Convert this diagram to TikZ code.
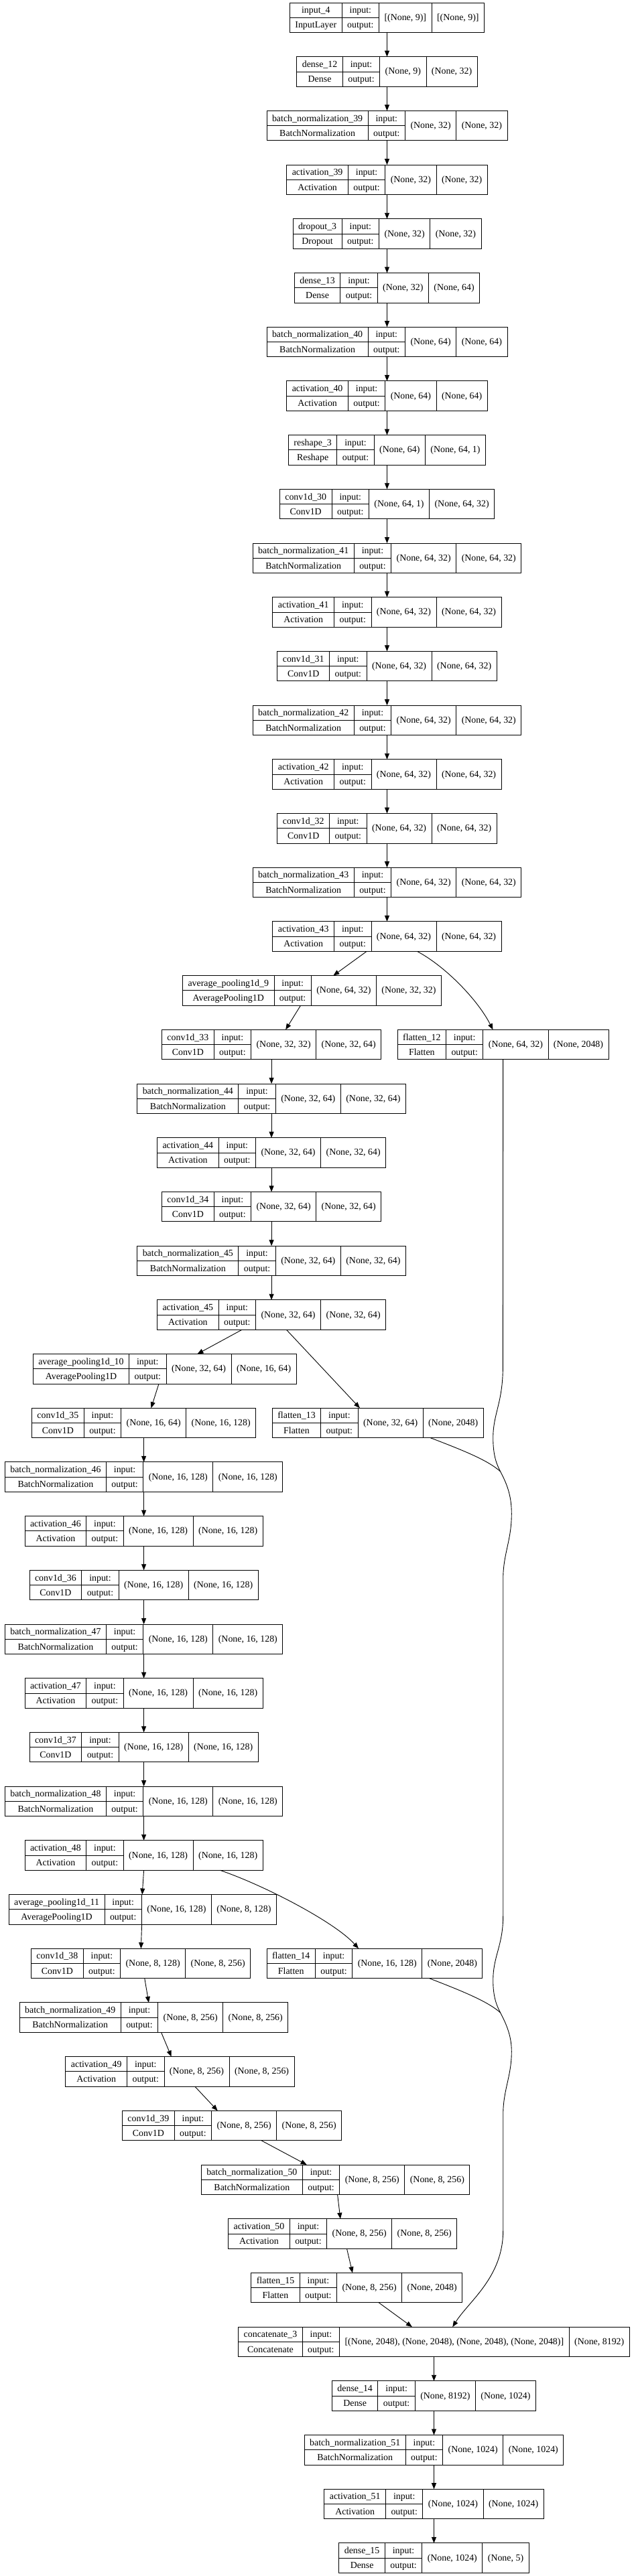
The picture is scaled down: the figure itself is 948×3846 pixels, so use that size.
\documentclass[tikz,border=0pt]{standalone}
\usepackage{fontspec}
\setmainfont{Liberation Serif}
\usetikzlibrary{arrows.meta,calc}
\newlength\kwa \newlength\kwb \newlength\kwc \newlength\kwd \newlength\kwt \newlength\kwtmp
\newif\ifkmeasure
\newcommand\kfont{\fontsize{13.9pt}{16pt}\selectfont}
\tikzset{
  kbox/.style={draw=black, line width=0.9pt, rectangle, inner sep=0pt, outer sep=0pt, minimum height=44.5pt},
  kcell/.style={draw=black, line width=0.9pt},
  ktext/.style={font=\kfont, inner sep=0pt, outer sep=0pt, anchor=base},
  kedge/.style={draw=black, line width=0.9pt, -{Triangle[length=9pt,width=7pt]}},
  kline/.style={draw=black, line width=0.9pt},
}
\newcommand\klayer[7]{%
  \ifkmeasure
    \settowidth\kwa{\kfont #4}\settowidth\kwtmp{\kfont #5}%
    \ifdim\kwtmp>\kwa \kwa=\kwtmp\fi
    \addtolength\kwa{16pt}%
    \settowidth\kwc{\kfont #6}\addtolength\kwc{16pt}%
    \settowidth\kwd{\kfont #7}\addtolength\kwd{16pt}%
    \expandafter\xdef\csname kwA@#1\endcsname{\the\kwa}%
    \expandafter\xdef\csname kwC@#1\endcsname{\the\kwc}%
    \expandafter\xdef\csname kwD@#1\endcsname{\the\kwd}%
  \else
    \kwa=\csname kwA@#1\endcsname\relax
    \kwb=\kwBfix\relax
    \kwc=\csname kwC@#1\endcsname\relax
    \kwd=\csname kwD@#1\endcsname\relax
    \kwt=\dimexpr\kwa+\kwb+\kwc+\kwd\relax
    \pgfmathsetmacro\kyy{26.25+(#3-1)*80.7}%
    \node[kbox, minimum width=\kwt] (#1) at (#2,\kyy) {};
    \draw[kcell] ([xshift=\kwa]#1.north west) -- ([xshift=\kwa]#1.south west)
       ([xshift=\kwa+\kwb]#1.north west) -- ([xshift=\kwa+\kwb]#1.south west)
       ([xshift=\kwa+\kwb+\kwc]#1.north west) -- ([xshift=\kwa+\kwb+\kwc]#1.south west)
       (#1.west) -- ([xshift=\kwa+\kwb]#1.west);
    \node[ktext] (#1-n) at ([xshift=0.5*\kwa, yshift=-15.7pt]#1.north west) {#4};
    \node[ktext] (#1-c) at ([xshift=0.5*\kwa, yshift=-38pt]#1.north west) {#5};
    \node[ktext] (#1-i) at ([xshift=\kwa+0.5*\kwb, yshift=-15.7pt]#1.north west) {input:};
    \node[ktext] (#1-o) at ([xshift=\kwa+0.5*\kwb, yshift=-38pt]#1.north west) {output:};
    \node[ktext] (#1-in) at ([xshift=\kwa+\kwb+0.5*\kwc, yshift=-26.2pt]#1.north west) {#6};
    \node[ktext] (#1-out) at ([xshift=\kwa+\kwb+\kwc+0.5*\kwd, yshift=-26.2pt]#1.north west) {#7};
  \fi
}
\newcommand\alllayers{%
\klayer{L1}{577.5}{1}{input\_4}{InputLayer}{[(None, 9)]}{[(None, 9)]}%
\klayer{L2}{577.5}{2}{dense\_12}{Dense}{(None, 9)}{(None, 32)}%
\klayer{L3}{577.5}{3}{batch\_normalization\_39}{BatchNormalization}{(None, 32)}{(None, 32)}%
\klayer{L4}{577.5}{4}{activation\_39}{Activation}{(None, 32)}{(None, 32)}%
\klayer{L5}{577.5}{5}{dropout\_3}{Dropout}{(None, 32)}{(None, 32)}%
\klayer{L6}{577.5}{6}{dense\_13}{Dense}{(None, 32)}{(None, 64)}%
\klayer{L7}{577.5}{7}{batch\_normalization\_40}{BatchNormalization}{(None, 64)}{(None, 64)}%
\klayer{L8}{577.5}{8}{activation\_40}{Activation}{(None, 64)}{(None, 64)}%
\klayer{L9}{577.5}{9}{reshape\_3}{Reshape}{(None, 64)}{(None, 64, 1)}%
\klayer{L10}{577.5}{10}{conv1d\_30}{Conv1D}{(None, 64, 1)}{(None, 64, 32)}%
\klayer{L11}{577.5}{11}{batch\_normalization\_41}{BatchNormalization}{(None, 64, 32)}{(None, 64, 32)}%
\klayer{L12}{577.5}{12}{activation\_41}{Activation}{(None, 64, 32)}{(None, 64, 32)}%
\klayer{L13}{577.5}{13}{conv1d\_31}{Conv1D}{(None, 64, 32)}{(None, 64, 32)}%
\klayer{L14}{577.5}{14}{batch\_normalization\_42}{BatchNormalization}{(None, 64, 32)}{(None, 64, 32)}%
\klayer{L15}{577.5}{15}{activation\_42}{Activation}{(None, 64, 32)}{(None, 64, 32)}%
\klayer{L16}{577.5}{16}{conv1d\_32}{Conv1D}{(None, 64, 32)}{(None, 64, 32)}%
\klayer{L17}{577.5}{17}{batch\_normalization\_43}{BatchNormalization}{(None, 64, 32)}{(None, 64, 32)}%
\klayer{L18}{577.5}{18}{activation\_43}{Activation}{(None, 64, 32)}{(None, 64, 32)}%
\klayer{L19}{465.5}{19}{average\_pooling1d\_9}{AveragePooling1D}{(None, 64, 32)}{(None, 32, 32)}%
\klayer{L20}{405.1}{20}{conv1d\_33}{Conv1D}{(None, 32, 32)}{(None, 32, 64)}%
\klayer{F12}{750.6}{20}{flatten\_12}{Flatten}{(None, 64, 32)}{(None, 2048)}%
\klayer{L21}{405.1}{21}{batch\_normalization\_44}{BatchNormalization}{(None, 32, 64)}{(None, 32, 64)}%
\klayer{L22}{405.1}{22}{activation\_44}{Activation}{(None, 32, 64)}{(None, 32, 64)}%
\klayer{L23}{405.1}{23}{conv1d\_34}{Conv1D}{(None, 32, 64)}{(None, 32, 64)}%
\klayer{L24}{405.1}{24}{batch\_normalization\_45}{BatchNormalization}{(None, 32, 64)}{(None, 32, 64)}%
\klayer{L25}{405.1}{25}{activation\_45}{Activation}{(None, 32, 64)}{(None, 32, 64)}%
\klayer{L26}{245.7}{26}{average\_pooling1d\_10}{AveragePooling1D}{(None, 32, 64)}{(None, 16, 64)}%
\klayer{L27}{214.6}{27}{conv1d\_35}{Conv1D}{(None, 16, 64)}{(None, 16, 128)}%
\klayer{F13}{563.8}{27}{flatten\_13}{Flatten}{(None, 32, 64)}{(None, 2048)}%
\klayer{L28}{214.6}{28}{batch\_normalization\_46}{BatchNormalization}{(None, 16, 128)}{(None, 16, 128)}%
\klayer{L29}{214.6}{29}{activation\_46}{Activation}{(None, 16, 128)}{(None, 16, 128)}%
\klayer{L30}{214.6}{30}{conv1d\_36}{Conv1D}{(None, 16, 128)}{(None, 16, 128)}%
\klayer{L31}{214.6}{31}{batch\_normalization\_47}{BatchNormalization}{(None, 16, 128)}{(None, 16, 128)}%
\klayer{L32}{214.6}{32}{activation\_47}{Activation}{(None, 16, 128)}{(None, 16, 128)}%
\klayer{L33}{214.6}{33}{conv1d\_37}{Conv1D}{(None, 16, 128)}{(None, 16, 128)}%
\klayer{L34}{214.6}{34}{batch\_normalization\_48}{BatchNormalization}{(None, 16, 128)}{(None, 16, 128)}%
\klayer{L35}{214.6}{35}{activation\_48}{Activation}{(None, 16, 128)}{(None, 16, 128)}%
\klayer{L36}{212.8}{36}{average\_pooling1d\_11}{AveragePooling1D}{(None, 16, 128)}{(None, 8, 128)}%
\klayer{L37}{210.1}{37}{conv1d\_38}{Conv1D}{(None, 8, 128)}{(None, 8, 256)}%
\klayer{F14}{559}{37}{flatten\_14}{Flatten}{(None, 16, 128)}{(None, 2048)}%
\klayer{L38}{229.5}{38}{batch\_normalization\_49}{BatchNormalization}{(None, 8, 256)}{(None, 8, 256)}%
\klayer{L39}{268.5}{39}{activation\_49}{Activation}{(None, 8, 256)}{(None, 8, 256)}%
\klayer{L40}{346.1}{40}{conv1d\_39}{Conv1D}{(None, 8, 256)}{(None, 8, 256)}%
\klayer{L41}{500.6}{41}{batch\_normalization\_50}{BatchNormalization}{(None, 8, 256)}{(None, 8, 256)}%
\klayer{L42}{511.2}{42}{activation\_50}{Activation}{(None, 8, 256)}{(None, 8, 256)}%
\klayer{L43}{532.3}{43}{flatten\_15}{Flatten}{(None, 8, 256)}{(None, 2048)}%
\klayer{L44}{647.5}{44}{concatenate\_3}{Concatenate}{[(None, 2048), (None, 2048), (None, 2048), (None, 2048)]}{(None, 8192)}%
\klayer{L45}{647.5}{45}{dense\_14}{Dense}{(None, 8192)}{(None, 1024)}%
\klayer{L46}{647.5}{46}{batch\_normalization\_51}{BatchNormalization}{(None, 1024)}{(None, 1024)}%
\klayer{L47}{647.5}{47}{activation\_51}{Activation}{(None, 1024)}{(None, 1024)}%
\klayer{L48}{647.5}{48}{dense\_15}{Dense}{(None, 1024)}{(None, 5)}%
}
\begin{document}
\kmeasuretrue
\alllayers
\settowidth\kwb{\kfont output:}\addtolength\kwb{16pt}%
\xdef\kwBfix{\the\kwb}%
\kmeasurefalse
\begin{tikzpicture}[x=1pt,y=-1pt]
\useasboundingbox (0,0) rectangle (948,3846);
\alllayers
% ---- straight vertical edges ----
\foreach \a/\b in {L1/L2,L2/L3,L3/L4,L4/L5,L5/L6,L6/L7,L7/L8,L8/L9,L9/L10,L10/L11,L11/L12,L12/L13,L13/L14,L14/L15,L15/L16,L16/L17,L17/L18,
  L20/L21,L21/L22,L22/L23,L23/L24,L24/L25,
  L27/L28,L28/L29,L29/L30,L30/L31,L31/L32,L32/L33,L33/L34,L34/L35,
  L44/L45,L45/L46,L46/L47,L47/L48}
  \draw[kedge] (\a.south) -- (\b.north);
% ---- offset edges ----
\draw[kedge] ([xshift=-30.4pt]L18.south) -- ([xshift=31.8pt]L19.north);
\draw[kedge] ([xshift=45pt]L18.south) .. controls (665,1443) and (713,1493) .. ([xshift=-15.1pt]F12.north);
\draw[kedge] ([xshift=-16.9pt]L19.south) -- ([xshift=21.1pt]L20.north);
\draw[kedge] ([xshift=-44.1pt]L25.south) -- ([xshift=48.7pt]L26.north);
\draw[kedge] ([xshift=22.3pt]L25.south) -- ([xshift=-26.9pt]F13.north);
\draw[kedge] ([xshift=-8.7pt]L26.south) -- ([xshift=10.9pt]L27.north);
\draw[kedge] (L35.south) -- ([xshift=-0.6pt]L36.north);
\draw[kedge] ([xshift=113.7pt]L35.south) .. controls (395,2815) and (500,2870) .. ([xshift=-24pt]F14.north);
\draw[kedge] ([xshift=-1.2pt]L36.south) -- ([xshift=0.3pt]L37.north);
\draw[kedge] ([xshift=5.7pt]L37.south) -- ([xshift=-7.6pt]L38.north);
\draw[kedge] ([xshift=11.1pt]L38.south) -- ([xshift=-12.8pt]L39.north);
\draw[kedge] ([xshift=22.3pt]L39.south) -- ([xshift=-21.4pt]L40.north);
\draw[kedge] ([xshift=43.9pt]L40.south) -- ([xshift=-42.9pt]L41.north);
\draw[kedge] ([xshift=3pt]L41.south) -- ([xshift=-3.3pt]L42.north);
\draw[kedge] ([xshift=6.3pt]L42.south) -- ([xshift=-6.3pt]L43.north);
\draw[kedge] ([xshift=33pt]L43.south) -- ([xshift=-32.6pt]L44.north);
% ---- flatten outputs to concatenate ----
\coordinate (j1) at (746.7,2197);
\coordinate (j2) at (746.7,3005);
\draw[kline] (F12.south) -- (750.4,2040) .. controls (750.4,2095) and (735.7,2110) .. (735.7,2147) .. controls (735.7,2175) and (742,2188) .. (j1);
\draw[kline] ([xshift=78.5pt]F13.south) .. controls (690,2165) and (728,2180) .. (j1);
\draw[kline] ([xshift=81.7pt]F14.south) .. controls (688,2972) and (728,2988) .. (j2);
\draw[kedge] (j1) .. controls (756,2215) and (763.3,2232) .. (763.3,2260) .. controls (763.3,2300) and (750.7,2320) .. (750.7,2357)
  -- (750.7,2860) .. controls (750.7,2905) and (735.7,2920) .. (735.7,2957) .. controls (735.7,2983) and (742,2996) .. (j2)
  .. controls (756,3023) and (763.3,3040) .. (763.3,3063) .. controls (763.3,3100) and (750.7,3120) .. (750.7,3157)
  -- (750.7,3330) .. controls (750.7,3400) and (700,3435) .. ([xshift=27.8pt]L44.north);
\end{tikzpicture}
\end{document}
